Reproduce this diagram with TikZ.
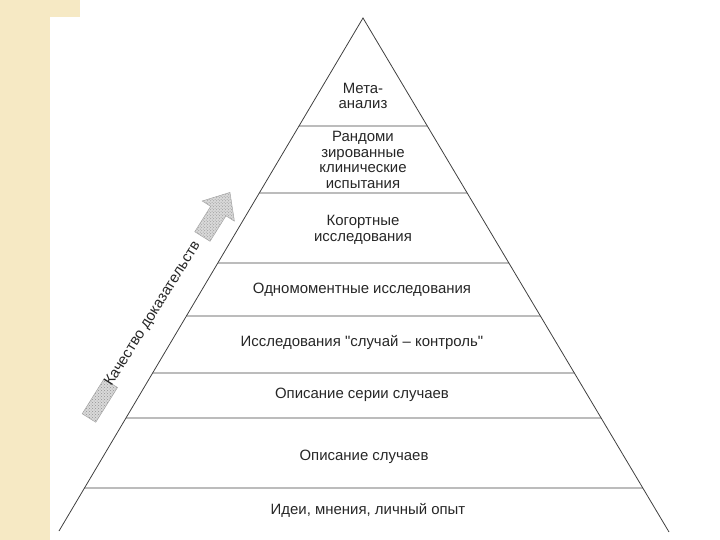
\documentclass[tikz,border=0pt]{standalone}
\usepackage{fontspec}
\setmainfont{Liberation Sans}
\usetikzlibrary{calc,patterns}
\definecolor{pagebeige}{RGB}{246,233,196}
\tikzset{
  tier/.style={font=\fontsize{15}{15.5}\selectfont, align=center, text=black!85},
  divider/.style={draw=black!75, line width=0.8bp},
  hatched/.style={draw=gray!70, line width=0.5bp, preaction={fill=gray!30}, pattern=crosshatch dots, pattern color=gray!85}
}
\begin{document}
\begin{tikzpicture}[x=1bp,y=-1bp]
\useasboundingbox (0,0) rectangle (720,540);
\fill[pagebeige] (0,0) rectangle (50,540); %page edge
\fill[pagebeige] (0,0) rectangle (80,17);
\coordinate (apex) at (363,18); %pyramid
\coordinate (bl) at (59,531);
\coordinate (br) at (669,532);
\draw[divider] (bl) -- (apex) -- (br);
\foreach \yy in {126,193,263,316,373,418,488}
  \draw[divider] ($(apex)!{(\yy-18)/513}!(bl)$) -- ($(apex)!{(\yy-18)/514}!(br)$);
\node[tier] (meta) at (363,96) {Мета-\\анализ}; %levels
\node[tier] (rkt) at (363,160) {Рандоми\\зированные\\клинические\\испытания};
\node[tier] (kogort) at (363,230) {Когортные\\исследования};
\node[tier] (odnomom) at (362,290) {Одномоментные исследования};
\node[tier] (kontrol) at (362,343) {Исследования \textquotedbl случай – контроль\textquotedbl};
\node[tier] (seria) at (362,395) {Описание серии случаев};
\node[tier] (sluchai) at (364,457) {Описание случаев};
\node[tier] (idei) at (368,510) {Идеи, мнения, личный опыт};
\begin{scope}[shift={(89,418)}, rotate=58] %quality arrow
  \draw[hatched] (0,-8) -- (41,-8) -- (41,8) -- (0,8) -- cycle;
  \draw[hatched] (214,-9) -- (244,-9) -- (244,-19) -- (266,0) -- (244,19) -- (244,9) -- (214,9) -- cycle;
\end{scope}
\node[tier, rotate=58] (kachestvo) at (153,314) {Качество доказательств};
\end{tikzpicture}
\end{document}
